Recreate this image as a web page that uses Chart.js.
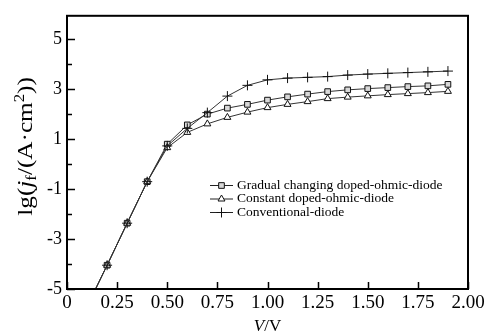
<!DOCTYPE html>
<html>
<head>
<meta charset="utf-8">
<script src="https://cdn.jsdelivr.net/npm/chart.js@4/dist/chart.umd.min.js"></script>
<style>
html,body{margin:0;padding:0;background:#fff;}
#wrap{width:491px;height:334px;position:relative;}
</style>
</head>
<body>
<div id="wrap"><canvas id="c" width="491" height="334"></canvas></div>
<script>
// ---- data ----
const voltages = [0.1,0.2,0.3,0.4,0.5,0.6,0.7,0.8,0.9,1.0,1.1,1.2,1.3,1.4,1.5,1.6,1.7,1.8,1.9];
const gradualValues = [-5.7,-4.05,-2.37,-0.71,0.79,1.56,1.99,2.23,2.38,2.55,2.68,2.79,2.89,2.96,3.01,3.05,3.09,3.12,3.18];
const constantValues = [-5.7,-4.05,-2.37,-0.71,0.65,1.26,1.60,1.86,2.07,2.25,2.38,2.49,2.61,2.67,2.72,2.77,2.81,2.85,2.90];
const conventionalValues = [-5.7,-4.05,-2.37,-0.71,0.72,1.42,2.05,2.71,3.14,3.36,3.43,3.46,3.49,3.55,3.59,3.62,3.65,3.68,3.71];
const seriesNames = ['Gradual changing doped-ohmic-diode','Constant doped-ohmic-diode','Conventional-diode'];
const xTickValues = [0,0.25,0.5,0.75,1.0,1.25,1.5,1.75,2.0];
const yTickValues = [-5,-4,-3,-2,-1,0,1,2,3,4,5];
const yLabelValues = [-5,-3,-1,1,3,5];

const SERIF = '"Liberation Serif","DejaVu Serif",serif';

function pts(vals){ return voltages.map((v,i)=>({x:v,y:vals[i]})); }

const styles = [
  {pointStyle:'rect', pointRadius:4, bg:'#d8d8d8'},
  {pointStyle:'triangle', pointRadius:4, bg:'#ffffff'},
  {pointStyle:'cross', pointRadius:5, bg:'#ffffff'}
];
const allVals = [gradualValues, constantValues, conventionalValues];

const datasets = allVals.map((vals,i)=>({
  label: seriesNames[i],
  data: pts(vals),
  borderColor:'#333',
  borderWidth:1,
  tension:0,
  pointStyle: styles[i].pointStyle,
  pointRadius: styles[i].pointRadius,
  pointBackgroundColor: styles[i].bg,
  pointBorderColor:'#111',
  pointBorderWidth:1,
  order: 3-i
}));

const decor = {
  id:'decor',
  afterDraw(chart){
    const ctx = chart.ctx;
    const {left,right,top,bottom} = chart.chartArea;
    const xs = chart.scales.x, ys = chart.scales.y;
    ctx.save();
    ctx.strokeStyle = '#000';
    ctx.lineWidth = 1.5;
    // inward ticks
    ctx.beginPath();
    xTickValues.forEach(v=>{
      const px = Math.round(xs.getPixelForValue(v))+0.5;
      ctx.moveTo(px,bottom); ctx.lineTo(px,bottom-7);
    });
    yTickValues.forEach(v=>{
      const py = Math.round(ys.getPixelForValue(v))+0.5;
      const len = (Math.abs(v)%2===1)?8:5;
      ctx.moveTo(left,py); ctx.lineTo(left+len,py);
    });
    ctx.stroke();
    // frame
    ctx.lineWidth = 2;
    ctx.strokeRect(left,top,right-left,bottom-top);

    // legend
    const lx0 = 210, lx1 = 233, lmx = 221.5, tx = 237;
    const rows = [185,198.5,212];
    ctx.textBaseline = 'middle';
    rows.forEach((ry,i)=>{
      ctx.lineWidth = 1;
      ctx.strokeStyle = '#222';
      ctx.beginPath(); ctx.moveTo(lx0,ry+0.5); ctx.lineTo(lx1,ry+0.5); ctx.stroke();
      ctx.fillStyle = styles[i].bg;
      ctx.strokeStyle = '#111';
      Chart.helpers.drawPoint(ctx,{pointStyle:styles[i].pointStyle, radius:styles[i].pointRadius, borderWidth:1, rotation:0}, lmx, ry+0.5);
      ctx.fillStyle = '#000';
      ctx.font = '13.5px '+SERIF;
      ctx.fillText(seriesNames[i], tx, ry);
    });

    // x title: V/V
    ctx.textBaseline = 'alphabetic';
    const xt = 331;
    ctx.font = 'italic 17px '+SERIF;
    const w1 = ctx.measureText('V').width;
    ctx.font = '17px '+SERIF;
    const w2 = ctx.measureText('/V').width;
    let sx = (left+right)/2 - (w1+w2)/2;
    ctx.fillStyle = '#000';
    ctx.font = 'italic 17px '+SERIF; ctx.fillText('V', sx, xt);
    ctx.font = '17px '+SERIF; ctx.fillText('/V', sx+w1, xt);

    // y title rotated
    ctx.save();
    ctx.translate(32, (top+bottom)/2 - 6);
    ctx.rotate(-Math.PI/2);
    ctx.scale(1.2,1);
    const fs = 21;
    const parts = [
      {t:'lg(', f:fs+'px '+SERIF, dy:0},
      {t:'j', f:'italic '+fs+'px '+SERIF, dy:0},
      {t:'f', f:Math.round(fs*0.65)+'px '+SERIF, dy:4},
      {t:'/(A\u00B7cm', f:fs+'px '+SERIF, dy:0},
      {t:'2', f:Math.round(fs*0.65)+'px '+SERIF, dy:-8},
      {t:'))', f:fs+'px '+SERIF, dy:0}
    ];
    let total = 0;
    parts.forEach(p=>{ ctx.font=p.f; p.w=ctx.measureText(p.t).width; total+=p.w; });
    let cx = -total/2;
    ctx.fillStyle='#000';
    parts.forEach(p=>{ ctx.font=p.f; ctx.fillText(p.t, cx, p.dy); cx+=p.w; });
    ctx.restore();

    ctx.restore();
  }
};

new Chart(document.getElementById('c'), {
  type:'line',
  data:{datasets},
  options:{
    responsive:false,
    animation:false,
    devicePixelRatio:1,
    layout:{padding:{top:9,right:23,left:0,bottom:0}},
    plugins:{legend:{display:false},tooltip:{enabled:false}},
    scales:{
      x:{
        type:'linear', min:0, max:2.0,
        afterBuildTicks(s){ s.ticks = xTickValues.map(v=>({value:v})); },
        afterFit(s){ s.height = 45; },
        grid:{display:false, drawTicks:false},
        border:{display:false},
        ticks:{
          padding:3, color:'#000', maxRotation:0, autoSkip:false,
          font:{family:SERIF, size:19},
          callback:(v)=> v===0 ? '0' : Number(v).toFixed(2)
        }
      },
      y:{
        type:'linear', min:-5, max:5.92,
        afterBuildTicks(s){ s.ticks = yTickValues.map(v=>({value:v})); },
        afterFit(s){ s.width = 67; },
        grid:{display:false, drawTicks:false},
        border:{display:false},
        ticks:{
          padding:5, color:'#000', autoSkip:false,
          font:{family:SERIF, size:18},
          callback:(v)=> yLabelValues.includes(v) ? String(v) : ''
        }
      }
    }
  },
  plugins:[decor]
});
</script>
</body>
</html>
